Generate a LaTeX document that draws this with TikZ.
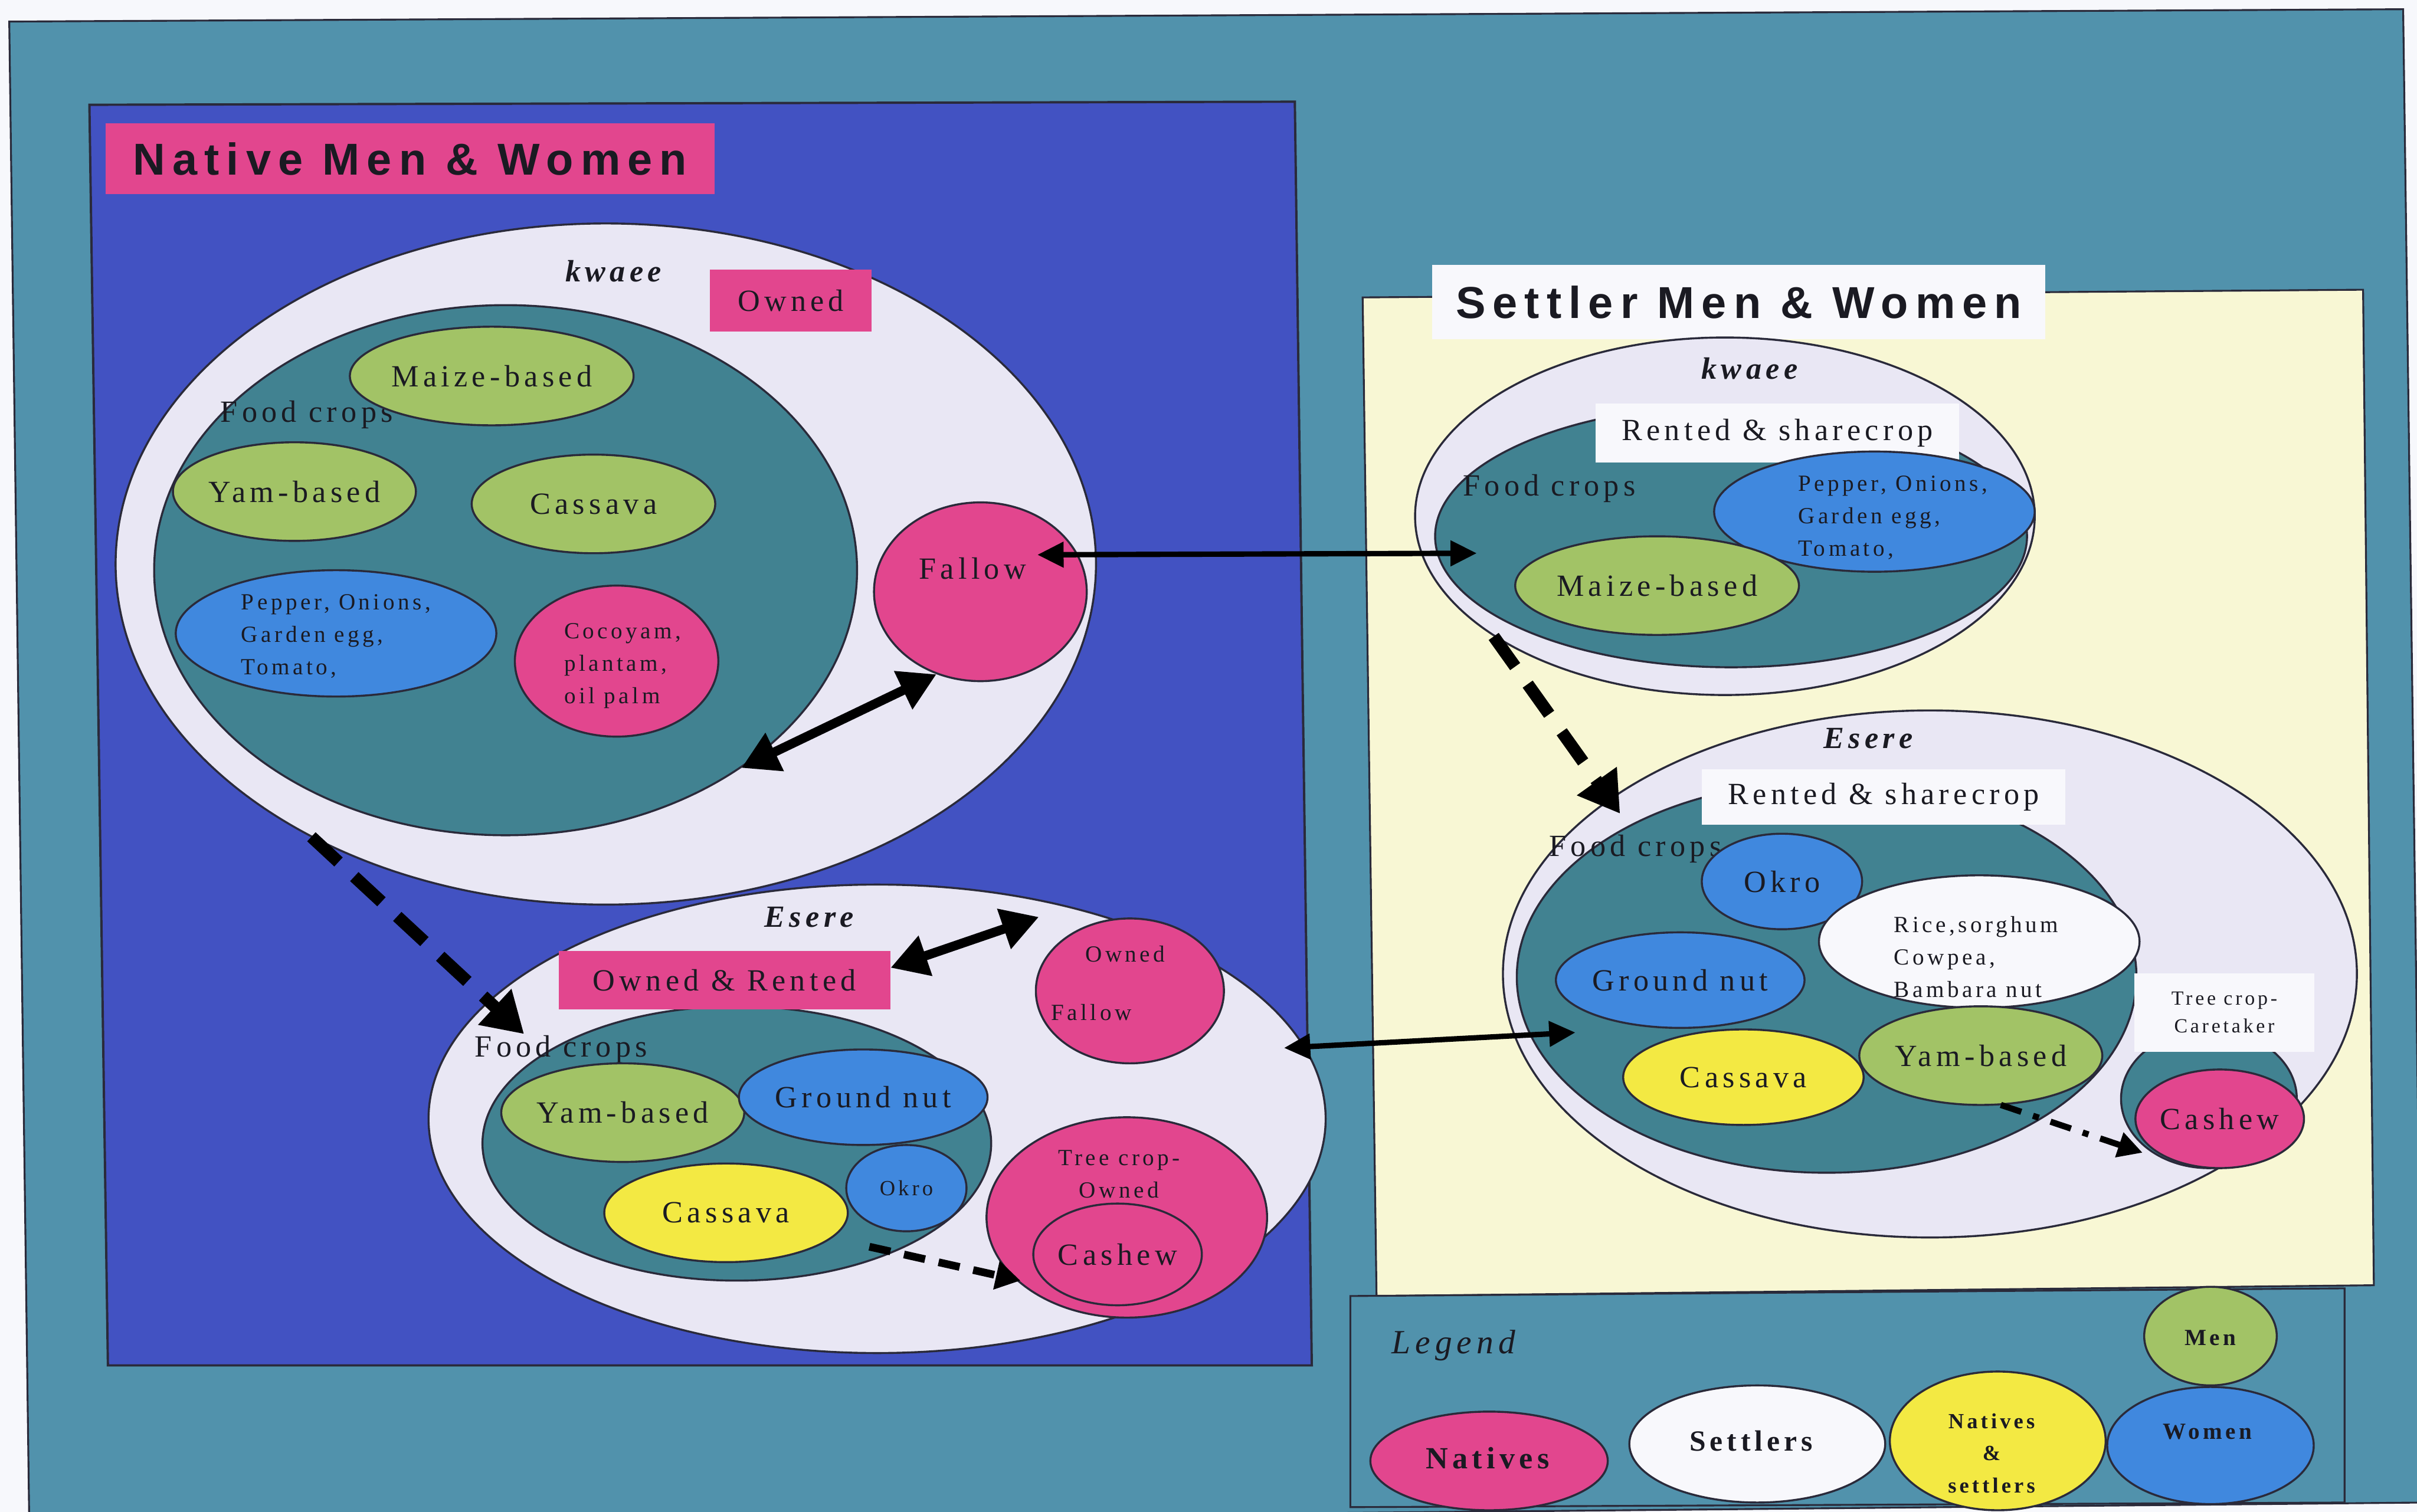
\documentclass[tikz,border=0pt]{standalone}
\usepackage{fontspec}
\setmainfont{Liberation Serif}
\newfontfamily\cropfont{Liberation Serif}[LetterSpace=14]
\newfontfamily\headfont{Liberation Sans}[LetterSpace=16]
\usetikzlibrary{shapes.geometric,arrows.meta}

\definecolor{paper}{HTML}{F7F8FC}
\definecolor{sea}{HTML}{5192AC}
\definecolor{royal}{HTML}{4252C2}
\definecolor{cream}{HTML}{F8F7D4}
\definecolor{pool}{HTML}{418291}
\definecolor{mist}{HTML}{E9E7F4}
\definecolor{pinky}{HTML}{E2468E}
\definecolor{leaf}{HTML}{A2C366}
\definecolor{sky}{HTML}{4088DE}
\definecolor{lemon}{HTML}{F3E943}
\definecolor{snow}{HTML}{F8F8FC}
\definecolor{rim}{HTML}{2A2A3A}
\definecolor{ink}{HTML}{1A1A22}

\tikzset{
  every node/.style={text=ink},
  blob/.style={ellipse, draw=rim, line width=1.3pt, inner sep=0pt},
  sz/.style 2 args={minimum width=#1pt, minimum height=#2pt},
  crop/.style={blob, font=\cropfont\fontsize{20}{22}\selectfont},
  smalltxt/.style={font=\cropfont\fontsize{15}{21}\selectfont, align=left, inner sep=0pt},
  labtxt/.style={font=\cropfont\fontsize{20}{22}\selectfont, inner sep=0pt},
  zone/.style={font=\cropfont\bfseries\itshape\fontsize{20}{22}\selectfont, inner sep=0pt},
  tagbox/.style={rectangle, inner sep=0pt, font=\cropfont\fontsize{20}{22}\selectfont},
  headbox/.style={rectangle, inner sep=0pt, font=\headfont\bfseries\fontsize{29}{31}\selectfont},
  legblob/.style={blob},
  legtxt/.style={font=\cropfont\bfseries\fontsize{19}{22}\selectfont, align=center, inner sep=0pt},
  bigtwo/.style={line width=6pt, {Triangle[length=24pt,width=26pt]}-{Triangle[length=24pt,width=26pt]}},
  slimtwo/.style={line width=3.5pt, {Triangle[length=17pt,width=16pt]}-{Triangle[length=17pt,width=16pt]}},
  heavydash/.style={line width=8pt, dash pattern=on 24pt off 14pt, -{Triangle[length=26pt,width=30pt]}},
  lightdash/.style={line width=5pt, dash pattern=on 14pt off 9pt, -{Triangle[length=16pt,width=18pt]}},
  dashdotted/.style={line width=4pt, dash pattern=on 14pt off 8pt on 4pt off 8pt, -{Triangle[length=16pt,width=16pt]}}
}

\begin{document}
\begin{tikzpicture}[x=1pt,y=-1pt]
\useasboundingbox (0,0) rectangle (1568,981);
\fill[paper] (0,0) rectangle (1568,981);

% background frame and panels
\filldraw[fill=sea, draw=rim, line width=1.2pt] (6,14) -- (1559,6) -- (1572,975) -- (19,990) -- cycle;
\filldraw[fill=royal, draw=rim, line width=1.5pt] (58,68) -- (840,66) -- (851,886) -- (70,886) -- cycle;
\filldraw[fill=cream, draw=rim, line width=1.2pt] (884,193) -- (1533,188) -- (1540,834) -- (893,841) -- cycle;
\filldraw[fill=sea, draw=rim, line width=1.2pt] (876,841) -- (1521,836) -- (1521,975) -- (876,978) -- cycle;

% ---------- natives ----------
\node[headbox, fill=pinky, minimum width=395pt, minimum height=46pt] (ntitle) at (266,103) {Native Men \& Women};

% kwaee (natives)
\node[blob, fill=mist, sz={636}{442}] (nk) at (393,366) {};
\node[zone] (nkname) at (398,176) {kwaee};
\node[tagbox, fill=pinky, minimum width=105pt, minimum height=40pt] (nkown) at (513,195) {Owned};
\node[blob, fill=pool, sz={456}{344}] (nkfood) at (328,370) {};
\node[labtxt] (nkfoodtxt) at (199,269) {Food crops};
\node[crop, fill=leaf, sz={156}{64}] (nkmaize) at (319,244) {Maize-based};
\node[crop, fill=leaf, sz={156}{64}] (nkyam) at (191,319) {Yam-based};
\node[crop, fill=leaf, sz={158}{64}] (nkcass) at (385,327) {Cassava};
\node[blob, fill=sky, sz={208}{82}] (nkpep) at (218,411) {};
\node[smalltxt] (nkpeptxt) at (218,413) {Pepper, Onions,\\Garden egg,\\Tomato,};
\node[blob, fill=pinky, sz={132}{98}] (nkcoco) at (400,429) {};
\node[smalltxt] (nkcocotxt) at (404,432) {Cocoyam,\\plantam,\\oil palm};
\node[blob, fill=pinky, sz={138}{116}] (nkfallow) at (636,384) {};
\node[labtxt] (nkfallowtxt) at (631,369) {Fallow};

% Esere (natives)
\node[blob, fill=mist, sz={582}{304}] (ne) at (569,726) {};
\node[zone] (nename) at (525,595) {Esere};
\node[blob, fill=pool, sz={330}{178}] (nefood) at (478,742) {};
\node[tagbox, fill=pinky, minimum width=215pt, minimum height=38pt] (neown) at (470,636) {Owned \& Rented};
\node[labtxt] (nefoodtxt) at (364,681) {Food crops};
\node[crop, fill=leaf, sz={156}{64}] (neyam) at (404,722) {Yam-based};
\node[crop, fill=sky, sz={156}{62}] (nenut) at (560,712) {Ground nut};
\node[crop, fill=lemon, sz={158}{64}] (necass) at (471,787) {Cassava};
\node[crop, fill=sky, sz={78}{56}, font=\cropfont\fontsize{14}{16}\selectfont] (neokro) at (588,771) {Okro};
\node[blob, fill=pinky, sz={122}{94}] (nefallow) at (733,643) {};
\node[smalltxt] (nefallowa) at (730,619) {Owned};
\node[smalltxt] (nefallowb) at (708,657) {Fallow};
\node[blob, fill=pinky, sz={182}{130}] (netree) at (731,790) {};
\node[smalltxt, align=center] (netreetxt) at (726,762) {Tree crop-\\Owned};
\node[crop, fill=pinky, sz={104}{66}] (necashew) at (725,814) {Cashew};

% ---------- settlers ----------
\node[headbox, fill=snow, minimum width=398pt, minimum height=48pt] (stitle) at (1128,196) {Settler Men \& Women};

% kwaee (settlers)
\node[blob, fill=mist, sz={402}{232}] (sk) at (1119,335) {};
\node[zone] (skname) at (1135,239) {kwaee};
\node[ellipse, fill=pool, draw=rim, line width=1.3pt, sz={384}{170}] (skfood) at (1123,348) {};
\node[tagbox, fill=snow, minimum width=236pt, minimum height=38pt] (skrent) at (1153,281) {Rented \& sharecrop};
\node[labtxt] (skfoodtxt) at (1005,317) {Food crops};
\node[blob, fill=sky, sz={208}{78}] (skpep) at (1216,332) {};
\node[smalltxt] (skpeptxt) at (1228,336) {Pepper, Onions,\\Garden egg,\\Tomato,};
\node[crop, fill=leaf, sz={156}{64}] (skmaize) at (1075,380) {Maize-based};

% Esere (settlers)
\node[blob, fill=mist, sz={554}{342}] (se) at (1252,632) {};
\node[zone] (sename) at (1212,479) {Esere};
\node[blob, fill=pool, sz={402}{254}] (sefood) at (1185,634) {};
\node[blob, fill=pool, sz={114}{90}] (secare) at (1433,713) {};
\node[tagbox, fill=snow, minimum width=236pt, minimum height=36pt] (serent) at (1222,517) {Rented \& sharecrop};
\node[tagbox, fill=snow, minimum width=117pt, minimum height=51pt, font=\cropfont\fontsize{13}{18}\selectfont, align=center] (secaretxt) at (1443,657) {Tree crop-\\Caretaker};
\node[labtxt] (sefoodtxt) at (1061,551) {Food crops};
\node[crop, fill=sky, sz={104}{62}] (seokro) at (1156,572) {Okro};
\node[blob, fill=snow, sz={208}{86}] (serice) at (1284,611) {};
\node[smalltxt] (sericetxt) at (1282,621) {Rice,sorghum\\Cowpea,\\Bambara nut};
\node[crop, fill=sky, sz={158}{62}] (senut) at (1090,636) {Ground nut};
\node[crop, fill=lemon, sz={156}{62}] (secass) at (1131,699) {Cassava};
\node[crop, fill=leaf, sz={154}{64}] (seyam) at (1285,685) {Yam-based};
\node[crop, fill=pinky, sz={104}{64}] (secashew) at (1440,726) {Cashew};

% ---------- legend ----------
\node[font=\cropfont\itshape\fontsize{22}{24}\selectfont, inner sep=0pt] (legtitle) at (943,873) {Legend};
\node[legblob, fill=pinky, sz={154}{64}] (lgnat) at (966,948) {};
\node[legtxt, font=\cropfont\bfseries\fontsize{20}{22}\selectfont] (lgnattxt) at (965,946) {Natives};
\node[legblob, fill=snow, sz={166}{76}] (lgset) at (1140,937) {};
\node[legtxt] (lgsettxt) at (1136,935) {Settlers};
\node[legblob, fill=lemon, sz={140}{90}] (lgboth) at (1296,935) {};
\node[legtxt, font=\cropfont\bfseries\fontsize{14}{21}\selectfont] (lgbothtxt) at (1292,943) {Natives\\\&\\settlers};
\node[legblob, fill=sky, sz={134}{76}] (lgwomen) at (1434,938) {};
\node[legtxt, font=\cropfont\bfseries\fontsize{15}{18}\selectfont] (lgwomentxt) at (1432,929) {Women};
\node[legblob, fill=leaf, sz={86}{64}] (lgmen) at (1434,867) {};
\node[legtxt, font=\cropfont\bfseries\fontsize{15}{18}\selectfont] (lgmentxt) at (1434,868) {Men};

% ---------- connectors ----------
\coordinate (fallowtip) at (673,360);
\coordinate (skfoodtip) at (958,359);
\coordinate (nefallowtip) at (674,595);
\coordinate (nkdashstart) at (202,543);
\coordinate (nedashtip) at (340,671);
\coordinate (nefoodfoot) at (564,809);
\coordinate (netreetip) at (662,831);
\coordinate (nerighttip) at (833,680);
\coordinate (sefoodtip) at (1022,670);
\coordinate (skdashstart) at (969,413);
\coordinate (sedashtip) at (1051,528);
\coordinate (seyamfoot) at (1298,717);
\coordinate (secashewtip) at (1390,748);

\draw[bigtwo] (nkfood.-40) -- (nkfallow.-118);
\draw[slimtwo] (fallowtip) -- (skfoodtip);
\draw[bigtwo] ([yshift=8pt]neown.east) -- (nefallowtip);
\draw[slimtwo] (nerighttip) -- (sefoodtip);
\draw[heavydash] (nkdashstart) -- (nedashtip);
\draw[heavydash] (skdashstart) -- (sedashtip);
\draw[lightdash] (nefoodfoot) -- (netreetip);
\draw[dashdotted] (seyamfoot) -- (secashewtip);
\end{tikzpicture}
\end{document}
